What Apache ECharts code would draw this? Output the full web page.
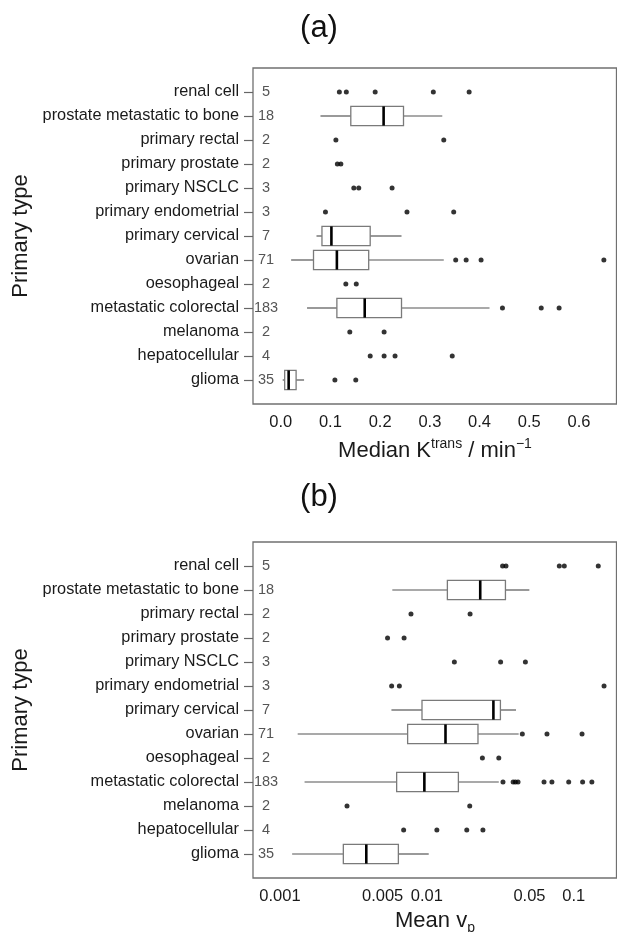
<!DOCTYPE html>
<html>
<head>
<meta charset="utf-8">
<script src="https://cdn.jsdelivr.net/npm/echarts@6/dist/echarts.min.js"></script>
<style>
  html, body { margin: 0; padding: 0; background: #fff; }
  #main { width: 617px; height: 932px; }
</style>
</head>
<body>
<div id="main"></div>
<script>
// rows, top to bottom
const categories = ['renal cell', 'prostate metastatic to bone', 'primary rectal', 'primary prostate',
  'primary NSCLC', 'primary endometrial', 'primary cervical', 'ovarian', 'oesophageal',
  'metastatic colorectal', 'melanoma', 'hepatocellular', 'glioma'];
const counts = [5, 18, 2, 2, 3, 3, 7, 71, 2, 183, 2, 4, 35];

// groups drawn as boxes: [lower whisker, Q1, median, Q3, upper whisker]
const boxCategories = ['prostate metastatic to bone', 'primary cervical', 'ovarian', 'metastatic colorectal', 'glioma'];
const ktransBoxes = [
  [0.080, 0.141, 0.207, 0.247, 0.325],
  [0.072, 0.083, 0.102, 0.180, 0.243],
  [0.021, 0.066, 0.113, 0.177, 0.328],
  [0.053, 0.113, 0.169, 0.243, 0.420],
  [0.004, 0.008, 0.016, 0.031, 0.047]
];
const vpBoxes = [
  [0.00582, 0.0138, 0.0231, 0.0343, 0.0499],
  [0.00574, 0.00927, 0.0284, 0.0317, 0.0405],
  [0.00132, 0.0074, 0.0134, 0.0223, 0.0422],
  [0.00147, 0.00623, 0.00962, 0.0164, 0.0309],
  [0.00121, 0.0027, 0.00387, 0.0064, 0.0103]
];

// single points / outliers, same order as categories
const ktransPoints = [
  [0.118, 0.132, 0.190, 0.307, 0.379],
  [],
  [0.111, 0.328],
  [0.114, 0.121],
  [0.147, 0.157, 0.224],
  [0.090, 0.254, 0.348],
  [],
  [0.352, 0.373, 0.403, 0.650],
  [0.131, 0.152],
  [0.446, 0.524, 0.560],
  [0.139, 0.208],
  [0.180, 0.208, 0.230, 0.345],
  [0.109, 0.151]
];
const vpPoints = [
  [0.0328, 0.0346, 0.0798, 0.0863, 0.147],
  [],
  [0.0078, 0.0197],
  [0.0054, 0.0070],
  [0.0154, 0.0318, 0.0469],
  [0.00576, 0.0065, 0.161],
  [],
  [0.0447, 0.0658, 0.114],
  [0.0239, 0.0309],
  [0.0330, 0.0387, 0.0401, 0.0418, 0.0628, 0.0711, 0.0925, 0.115, 0.133],
  [0.00286, 0.0196],
  [0.00695, 0.0117, 0.0187, 0.0241],
  []
];

const ktransTicks = [0, 0.1, 0.2, 0.3, 0.4, 0.5, 0.6];
const vpTicks = [0.001, 0.005, 0.01, 0.05, 0.1];

const FONT = 'Liberation Sans';
const frameColor = '#707070';

// y axis: blank slot above and below so the rows sit one step in from the frame
const yCats = [' '].concat(categories.slice().reverse(), ['  ']);
const countOf = {};
categories.forEach((c, i) => { countOf[c] = counts[i]; });
const rowIndex = name => yCats.indexOf(name);

const boxData = boxes => boxCategories.map((c, i) => [rowIndex(c)].concat(boxes[i]));
const pointData = pts => {
  const out = [];
  categories.forEach((c, i) => pts[i].forEach(v => out.push([v, rowIndex(c)])));
  return out;
};

function renderBox(params, api) {
  const y = api.value(0);
  const p = [1, 2, 3, 4, 5].map(d => api.coord([api.value(d), y]));
  const h = api.size([0, 1])[1] * 0.8;
  const cy = p[0][1];
  const whisker = { stroke: '#555', lineWidth: 1.2 };
  return {
    type: 'group',
    children: [
      { type: 'line', shape: { x1: p[0][0], y1: cy, x2: p[1][0], y2: cy }, style: whisker },
      { type: 'line', shape: { x1: p[3][0], y1: cy, x2: p[4][0], y2: cy }, style: whisker },
      { type: 'rect', shape: { x: p[1][0], y: cy - h / 2, width: p[3][0] - p[1][0], height: h },
        style: { fill: '#fff', stroke: '#7a7a7a', lineWidth: 1.3 } },
      { type: 'line', shape: { x1: p[2][0], y1: cy - h / 2, x2: p[2][0], y2: cy + h / 2 },
        style: { stroke: '#000', lineWidth: 2.6 } }
    ]
  };
}

function yAxes(gi) {
  return [{
    type: 'category', gridIndex: gi, position: 'left', data: yCats, boundaryGap: false,
    axisLine: { show: false, onZero: false },
    axisTick: { length: 9, interval: (i, v) => v.trim() !== '', lineStyle: { color: '#666', width: 1.2 } },
    axisLabel: { interval: 0, fontSize: 16.3, color: '#1a1a1a', margin: 14 },
    name: 'Primary type', nameLocation: 'middle', nameGap: 220,
    nameTextStyle: { fontSize: 22, color: '#1a1a1a' }
  }, {
    type: 'category', gridIndex: gi, position: 'left', data: yCats, boundaryGap: false,
    axisLine: { show: false, onZero: false }, axisTick: { show: false },
    axisLabel: { interval: 0, inside: true, align: 'center', margin: 13, fontSize: 14.5, color: '#555',
      formatter: v => (countOf[v] === undefined ? '' : String(countOf[v])) }
  }];
}

const tickStyle = { length: 6, lineStyle: { color: '#666', width: 1.2 } };
const labelStyle = { fontSize: 16.5, color: '#1a1a1a', margin: 10 };
const titleRich = {
  m: { fontSize: 22, lineHeight: 28, fill: '#1a1a1a', fontFamily: FONT },
  up: { fontSize: 14, lineHeight: 14, verticalAlign: 'top', fill: '#1a1a1a', fontFamily: FONT },
  dn: { fontSize: 14, lineHeight: 14, verticalAlign: 'bottom', fill: '#1a1a1a', fontFamily: FONT }
};

const option = {
  animation: false,
  textStyle: { fontFamily: FONT },
  graphic: [
    { type: 'text', style: { text: '(a)', x: 319, y: 28, font: '31px ' + FONT, fill: '#111', align: 'center', verticalAlign: 'middle' } },
    { type: 'text', style: { text: '(b)', x: 319, y: 497, font: '31px ' + FONT, fill: '#111', align: 'center', verticalAlign: 'middle' } },
    { type: 'text', style: { text: '{m|Median K}{up|trans}{m| / min}{up|\u22121}', rich: titleRich,
        x: 435, y: 437, align: 'center', verticalAlign: 'top' } },
    { type: 'text', style: { text: '{m|Mean v}{dn|p}', rich: titleRich,
        x: 435, y: 907, align: 'center', verticalAlign: 'top' } }
  ],
  grid: [
    { left: 253, top: 68, width: 363.5, height: 336, show: true, borderColor: frameColor, borderWidth: 1.3 },
    { left: 253, top: 542, width: 363.5, height: 336, show: true, borderColor: frameColor, borderWidth: 1.3 }
  ],
  xAxis: [{
    type: 'value', gridIndex: 0, min: -0.0557, max: 0.6754,
    splitLine: { show: false }, axisLine: { show: false, onZero: false },
    axisTick: Object.assign({ customValues: ktransTicks }, tickStyle),
    axisLabel: Object.assign({ customValues: ktransTicks, formatter: v => v.toFixed(1) }, labelStyle)
  }, {
    type: 'log', logBase: 10, gridIndex: 1, min: 0.000655, max: 0.1957,
    splitLine: { show: false }, axisLine: { show: false, onZero: false },
    axisTick: Object.assign({ customValues: vpTicks }, tickStyle),
    axisLabel: Object.assign({ customValues: vpTicks, formatter: v => String(parseFloat(Number(v).toPrecision(3))) }, labelStyle)
  }],
  yAxis: yAxes(0).concat(yAxes(1)),
  series: [
    { type: 'custom', xAxisIndex: 0, yAxisIndex: 0, renderItem: renderBox, data: boxData(ktransBoxes),
      encode: { x: [1, 2, 3, 4, 5], y: 0 } },
    { type: 'scatter', xAxisIndex: 0, yAxisIndex: 0, data: pointData(ktransPoints),
      symbol: 'circle', symbolSize: 5, itemStyle: { color: '#000' } },
    { type: 'custom', xAxisIndex: 1, yAxisIndex: 2, renderItem: renderBox, data: boxData(vpBoxes),
      encode: { x: [1, 2, 3, 4, 5], y: 0 } },
    { type: 'scatter', xAxisIndex: 1, yAxisIndex: 2, data: pointData(vpPoints),
      symbol: 'circle', symbolSize: 5, itemStyle: { color: '#000' } }
  ]
};

const chart = echarts.init(document.getElementById('main'));
chart.setOption(option);
</script>
</body>
</html>
